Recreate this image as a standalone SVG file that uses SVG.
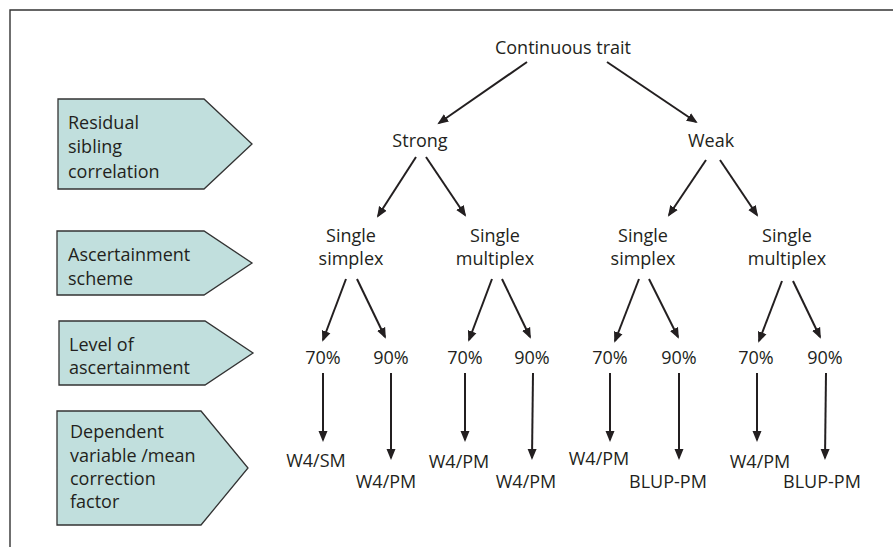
<svg xmlns="http://www.w3.org/2000/svg" width="893" height="547" viewBox="0 0 893 547">
<style>
  .bg { fill: #ffffff; }
  .frame { fill: none; stroke: #333333; stroke-width: 1.4; }
  .tag { fill: #c1dfdd; stroke: #333333; stroke-width: 1.3; }
  text { font-family: "Open Sans", "Liberation Sans", sans-serif; font-size: 18px; fill: #231f20; }
  .c { text-anchor: middle; }
  .arr { stroke: #231f20; stroke-width: 2; fill: none; marker-end: url(#ah); }
</style>
<defs>
  <marker id="ah" markerUnits="userSpaceOnUse" markerWidth="12" markerHeight="10" refX="9" refY="5" orient="auto">
    <path d="M0,0.5 L11,5 L0,9.5 Z" fill="#231f20"/>
  </marker>
</defs>
<rect class="bg" x="0" y="0" width="893" height="547"/>
<path class="frame" d="M10,547 V10 H893"/>

<g id="row-residual">
  <path class="tag" d="M58,99 H204 L252,144 L204,189 H58 Z"/>
  <text x="68" y="129">Residual</text>
  <text x="68" y="153">sibling</text>
  <text x="68" y="178">correlation</text>
</g>
<g id="row-ascertainment-scheme">
  <path class="tag" d="M57,231 H204 L252,263 L204,295 H57 Z"/>
  <text x="68" y="261">Ascertainment</text>
  <text x="68" y="285">scheme</text>
</g>
<g id="row-level">
  <path class="tag" d="M59,321 H205 L253,353 L205,385 H59 Z"/>
  <text x="69" y="351">Level of</text>
  <text x="69" y="374">ascertainment</text>
</g>
<g id="row-dependent">
  <path class="tag" d="M57,411 H201 L248,468 L201,525 H57 Z"/>
  <text x="70" y="438">Dependent</text>
  <text x="70" y="462">variable /mean</text>
  <text x="70" y="485">correction</text>
  <text x="70" y="508">factor</text>
</g>

<g id="n-root"><text class="c" x="563" y="54">Continuous trait</text></g>
<g id="n-strong"><text class="c" x="420" y="147">Strong</text></g>
<g id="n-weak"><text class="c" x="711" y="147">Weak</text></g>

<g id="n-s-simplex"><text class="c" x="351" y="242">Single</text><text class="c" x="351" y="265">simplex</text></g>
<g id="n-s-multiplex"><text class="c" x="495" y="242">Single</text><text class="c" x="495" y="265">multiplex</text></g>
<g id="n-w-simplex"><text class="c" x="643" y="242">Single</text><text class="c" x="643" y="265">simplex</text></g>
<g id="n-w-multiplex"><text class="c" x="787" y="242">Single</text><text class="c" x="787" y="265">multiplex</text></g>

<g id="p1"><text class="c" x="323" y="364">70%</text></g>
<g id="p2"><text class="c" x="391" y="364">90%</text></g>
<g id="p3"><text class="c" x="465" y="364">70%</text></g>
<g id="p4"><text class="c" x="532" y="364">90%</text></g>
<g id="p5"><text class="c" x="610" y="364">70%</text></g>
<g id="p6"><text class="c" x="679" y="364">90%</text></g>
<g id="p7"><text class="c" x="756" y="364">70%</text></g>
<g id="p8"><text class="c" x="825" y="364">90%</text></g>

<g id="r1"><text class="c" x="316" y="467">W4/SM</text></g>
<g id="r2"><text class="c" x="386" y="488">W4/PM</text></g>
<g id="r3"><text class="c" x="459" y="468">W4/PM</text></g>
<g id="r4"><text class="c" x="526" y="488">W4/PM</text></g>
<g id="r5"><text class="c" x="599" y="465">W4/PM</text></g>
<g id="r6"><text class="c" x="668" y="488">BLUP-PM</text></g>
<g id="r7"><text class="c" x="760" y="468">W4/PM</text></g>
<g id="r8"><text class="c" x="822" y="488">BLUP-PM</text></g>

<g id="connectors">
  <line class="arr" x1="527" y1="62" x2="439" y2="123"/>
  <line class="arr" x1="607" y1="62" x2="696" y2="122"/>

  <line class="arr" x1="416" y1="157" x2="378" y2="216"/>
  <line class="arr" x1="426" y1="157" x2="465" y2="215"/>
  <line class="arr" x1="706" y1="160" x2="669" y2="215"/>
  <line class="arr" x1="720" y1="160" x2="757" y2="215"/>

  <line class="arr" x1="346" y1="279" x2="323" y2="340"/>
  <line class="arr" x1="357" y1="279" x2="385" y2="337"/>
  <line class="arr" x1="492" y1="279" x2="469" y2="340"/>
  <line class="arr" x1="502" y1="279" x2="530" y2="337"/>
  <line class="arr" x1="639" y1="279" x2="615" y2="341"/>
  <line class="arr" x1="649" y1="279" x2="678" y2="337"/>
  <line class="arr" x1="782" y1="281" x2="759" y2="341"/>
  <line class="arr" x1="793" y1="281" x2="820" y2="337"/>

  <line class="arr" x1="323" y1="373" x2="323" y2="440"/>
  <line class="arr" x1="391" y1="373" x2="391" y2="458"/>
  <line class="arr" x1="465" y1="373" x2="465" y2="440"/>
  <line class="arr" x1="533" y1="373" x2="532" y2="458"/>
  <line class="arr" x1="610" y1="373" x2="610" y2="440"/>
  <line class="arr" x1="679" y1="373" x2="679" y2="458"/>
  <line class="arr" x1="757" y1="373" x2="757" y2="440"/>
  <line class="arr" x1="826" y1="373" x2="825" y2="458"/>
</g>
</svg>
